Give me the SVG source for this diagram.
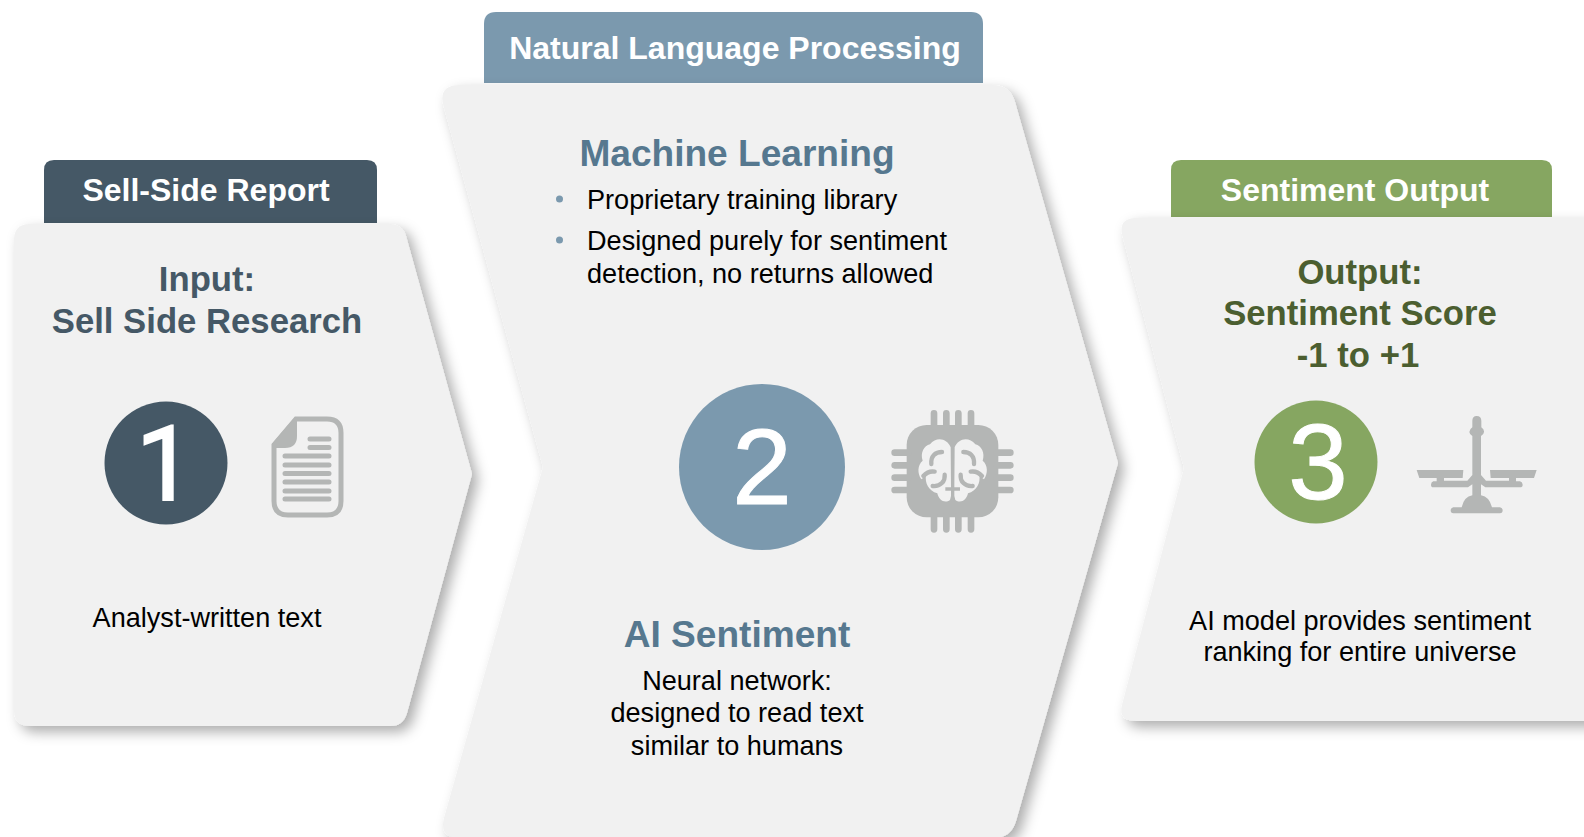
<svg xmlns="http://www.w3.org/2000/svg" width="1584" height="837" viewBox="0 0 1584 837">
<style>
text{font-family:"Liberation Sans",Arial,sans-serif}
.c{text-anchor:middle}
.tab{font-weight:700;font-size:32px;fill:#fff}
.h{font-weight:700;font-size:34.7px}
.h2{font-weight:700;font-size:37.1px;fill:#56788f}
.b{font-size:27.1px;fill:#000}
.n{font-size:107px;fill:#fff;text-anchor:middle;stroke:#fff;stroke-width:1}
.p{fill:#f1f1f1;filter:url(#s)}
.ic{fill:#b4b6b5}
.il{fill:none;stroke:#b4b6b5;stroke-linecap:round}
</style>
<defs>
<filter id="s" x="-10%" y="-10%" width="125%" height="125%"><feDropShadow dx="6" dy="6" stdDeviation="6.5" flood-color="#000" flood-opacity=".32"/></filter>
<path id="lobe" d="M272 172C262 146 230 138 210 163C192 166 180 190 188 212C172 225 172 250 184 268C190 264 194 258 198 254C194 280 206 302 232 310C236 330 254 342 270 330L273 318V302H256V292H273Z" fill="#f1f1f1"/>
<path id="lobei" d="M246 186C226 186 212 198 214 222M224 245C212 243 200 247 190 258M254 254C256 274 242 290 218 288" fill="none" stroke="#b4b6b5" stroke-width="13" stroke-linecap="round"/>
</defs>

<g id="node-1">
<path d="M44 223V170Q44 160 54 160H367Q377 160 377 170V223Z" fill="#455866"/>
<path class="p" d="M14 240Q14 224 30 224H390Q402 224 406 236L472 474L407 713Q403 726 391 726H30Q14 726 14 710Z"/>
<text class="tab c" x="206" y="201">Sell-Side Report</text>
<text class="h c" x="207" y="291" fill="#455866">Input:</text>
<text class="h c" x="207" y="333" fill="#455866">Sell Side Research</text>
<circle cx="166" cy="463" r="61.5" fill="#455866"/>
<text class="n" x="165" y="500" style="font-family:Roboto,'Liberation Sans',sans-serif;font-size:103px;stroke-width:2">1</text>
<g id="doc-icon">
<path d="M296 419H327Q341 419 341 433V501Q341 515 327 515H288Q274 515 274 501V445Z" fill="none" stroke="#b4b6b5" stroke-width="5"/>
<path class="ic" d="M295 417L272 444V448H285Q297 448 297 436V417Z"/>
<path class="il" stroke-width="5" d="M310 439H329M310 447.500H329M285 456H329M285 465H329M285 473.500H329M285 482H329M285 491H329M285 499H329"/>
</g>
<text class="b c" x="207" y="627">Analyst-written text</text>
</g>

<g id="node-2">
<path d="M484 83V24Q484 12 496 12H971Q983 12 983 24V83Z" fill="#7b99ae"/>
<path class="p" d="M443 104Q439 85 460 85H992Q1010 85 1015 102L1118 463L1016 821Q1011 838 994 838H460Q439 838 444 818L543 467Z"/>
<text class="tab c" x="735" y="59">Natural Language Processing</text>
<text class="h2 c" x="737" y="166">Machine Learning</text>
<circle cx="559.500" cy="199" r="3.500" fill="#7b99ae"/>
<text class="b" x="587" y="209">Proprietary training library</text>
<circle cx="559.500" cy="240" r="3.500" fill="#7b99ae"/>
<text class="b" x="587" y="250">Designed purely for sentiment</text>
<text class="b" x="587" y="283">detection, no returns allowed</text>
<circle cx="762" cy="467" r="83" fill="#7b99ae"/>
<text class="n" x="762" y="504">2</text>
<g id="chip-icon" transform="translate(860 390) scale(.33333)">
<rect x="140" y="105" width="275" height="277" rx="60" class="ic"/>
<path class="il" stroke-width="20" d="M222 70V110M259 70V110M295 70V110M333 70V110M222 378V418M259 378V418M295 378V418M333 378V418M104 188H145M104 226H145M104 263H145M104 300H145M410 188H451M410 226H451M410 263H451M410 300H451"/>
<use href="#lobe"/><use href="#lobei"/>
<g transform="translate(556 0) scale(-1 1)"><use href="#lobe"/><use href="#lobei"/></g>
</g>
<text class="h2 c" x="737" y="647">AI Sentiment</text>
<text class="b c" x="737" y="690">Neural network:</text>
<text class="b c" x="737" y="722">designed to read text</text>
<text class="b c" x="737" y="755">similar to humans</text>
</g>

<g id="node-3">
<path d="M1171 217V170Q1171 160 1181 160H1542Q1552 160 1552 170V217Z" fill="#86a661"/>
<path class="p" d="M1122 234Q1119 218 1136 218H1600V721H1136Q1118 721 1122 705L1184 468Z"/>
<text class="tab c" x="1355" y="201">Sentiment Output</text>
<text class="h c" x="1360" y="284" fill="#4b5e30">Output:</text>
<text class="h c" x="1360" y="325" fill="#4b5e30">Sentiment Score</text>
<text class="h c" x="1358" y="367" fill="#4b5e30">-1 to +1</text>
<circle cx="1316" cy="462" r="61.5" fill="#86a661"/>
<text class="n" x="1318" y="499">3</text>
<g id="scale-icon" transform="translate(1380 390) scale(.33333)">
<path class="ic" d="M277 92Q277 78 290 78Q304 78 304 92V112Q313 118 312 126Q312 132 303 138V255L318 272H387V264H332L330 240H470L462 264H408V274H420Q428 276 428 284Q428 292 420 292H316L303 283V316Q328 320 336 352H360Q368 354 368 361Q368 370 360 370H220Q212 370 212 361Q212 354 220 352H245Q252 320 277 316V283L264 292H160Q153 292 153 284Q153 276 160 274H170V264H118L110 240H250L248 264H192V272H262L277 255V138Q268 132 268 126Q268 118 277 112Z"/>
</g>
<text class="b c" x="1360" y="630">AI model provides sentiment</text>
<text class="b c" x="1360" y="661">ranking for entire universe</text>
</g>

<g id="connectors"></g>
</svg>
